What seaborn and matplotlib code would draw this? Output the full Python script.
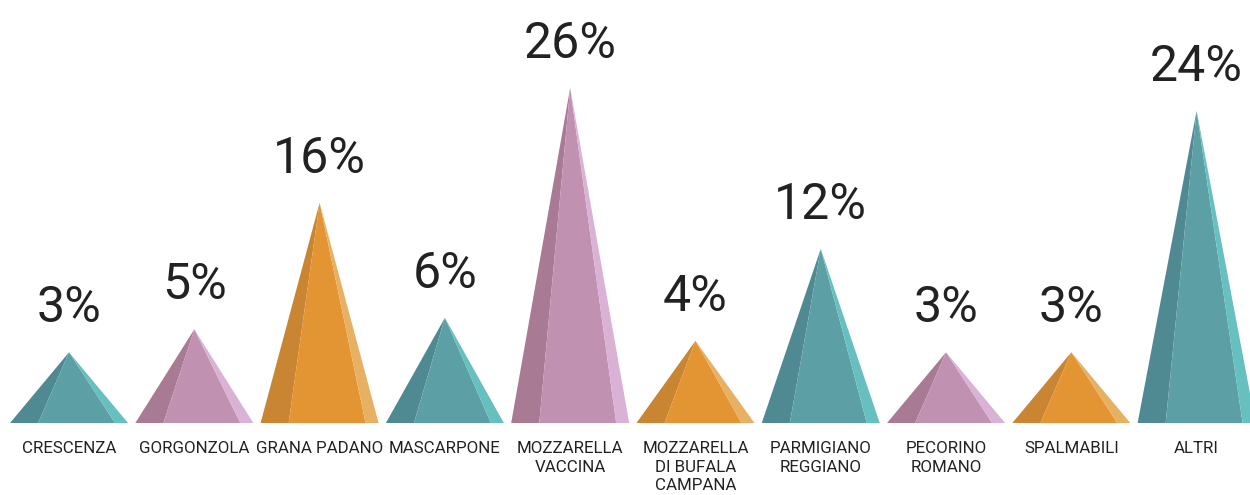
import matplotlib
matplotlib.use("Agg")
import matplotlib.pyplot as plt
import seaborn as sns

categories = ["CRESCENZA", "GORGONZOLA", "GRANA PADANO", "MASCARPONE",
              "MOZZARELLA\nVACCINA", "MOZZARELLA\nDI BUFALA\nCAMPANA",
              "PARMIGIANO\nREGGIANO", "PECORINO\nROMANO", "SPALMABILI", "ALTRI"]
values = [3, 5, 16, 6, 26, 4, 12, 3, 3, 24]
labels = ["3%", "5%", "16%", "6%", "26%", "4%", "12%", "3%", "3%", "24%"]

# shades per colour family: left face, front face, right face
teal = ["#4f8991", "#5ca0a6", "#66c0bf"]
pink = ["#a87a93", "#c091b0", "#d9b2d6"]
orange = ["#c98532", "#e29532", "#e8b062"]
families = [teal, pink, orange] * 3 + [teal]

sns.set_theme(style="white")
plt.rcParams["font.family"] = ["Roboto", "DejaVu Sans"]

fig = plt.figure(figsize=(12.5, 4.95), dpi=100)
ax = fig.add_axes([0, 72 / 495, 1, 423 / 495])

# invisible bars just to set up the categorical axis
sns.barplot(x=list(range(len(values))), y=values, ax=ax, alpha=0)

base = -3.15  # pyramids start a bit below zero so small ones stay visible
hw, left_cut, right_cut = 0.471, 0.247, 0.367
for i, (v, cols) in enumerate(zip(values, families)):
    ax.fill([i - hw, i - left_cut, i], [base, base, v], color=cols[0], lw=0)
    ax.fill([i - left_cut, i + right_cut, i], [base, base, v], color=cols[1], lw=0)
    ax.fill([i + right_cut, i + hw, i], [base, base, v], color=cols[2], lw=0)
    ax.annotate(labels[i], (i, v), xytext=(0, 21.5), textcoords="offset points",
                ha="center", va="baseline", fontsize=36, color="#222222")

ax.set_xlim(-0.551, 9.426)
ax.set_ylim(base, base + 423 / 11.5)
ax.set_xticks(range(len(categories)))
ax.set_xticklabels(categories, fontsize=12.2, color="#222222", linespacing=1.3)
ax.tick_params(axis="x", length=0, pad=13)
ax.set_yticks([])
ax.set_xlabel("")
ax.set_ylabel("")
sns.despine(ax=ax, left=True, bottom=True)

plt.savefig("out.png", dpi=100)
